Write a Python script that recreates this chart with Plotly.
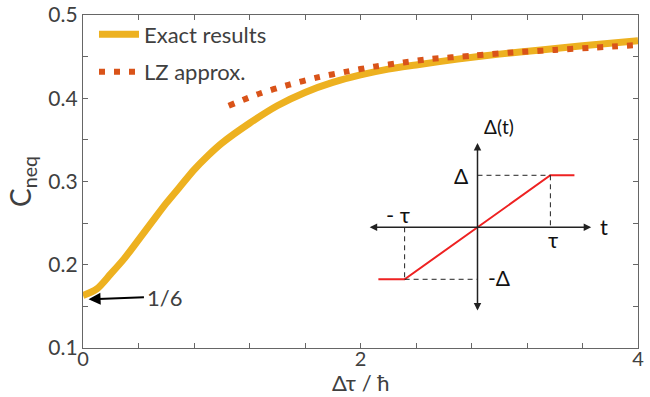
import plotly.graph_objects as go

# ---- main chart data ----
exact_x = [0, 0.1, 0.2, 0.3, 0.4, 0.5, 0.6, 0.7, 0.8, 0.9, 1.0, 1.2, 1.4, 1.6,
           1.8, 2.0, 2.2, 2.4, 2.7, 3.0, 3.3, 3.6, 4.0]
exact_y = [0.163, 0.171, 0.189, 0.208, 0.230, 0.252, 0.274, 0.294, 0.314, 0.331, 0.346,
           0.370, 0.391, 0.407, 0.419, 0.428, 0.435, 0.440, 0.447, 0.453, 0.458, 0.463,
           0.469]
lz_x = [1.05, 1.28, 1.48, 1.69, 1.9, 2.1, 2.31, 2.5, 2.8, 3.1, 3.4, 3.7, 4.0]
lz_y = [0.391, 0.406, 0.416, 0.425, 0.432, 0.438, 0.443, 0.447, 0.451, 0.455, 0.458,
        0.461, 0.464]

x_ticks = [0, 0.4, 0.8, 1.2, 1.6, 2.0, 2.4, 2.8, 3.2, 3.6, 4.0]
x_tick_labels = ["0", "", "", "", "", "2", "", "", "", "", "4"]
y_ticks = [0.1, 0.15, 0.2, 0.25, 0.3, 0.35, 0.4, 0.45, 0.5]
y_tick_labels = ["0.1", "", "0.2", "", "0.3", "", "0.4", "", "0.5"]
x_title = "Δτ / ħ"

# ---- inset schematic data (tau = 1, Delta = 1) ----
inset_t = [-1.36, -1, 1, 1.33]
inset_delta = [-1, -1, 1, 1]

FONT = "Lato"
TXT = "#404040"
AX = "#666666"

fig = go.Figure()
fig.add_trace(go.Scatter(x=exact_x, y=exact_y, mode="lines", name="Exact results",
                         legendgroup="a",
                         line=dict(color="#EDB120", width=7, shape="spline", smoothing=0.8)))
fig.add_trace(go.Scatter(x=lz_x, y=lz_y, mode="lines", name="LZ approx.",
                         legendgroup="b",
                         line=dict(color="#D95319", width=6, dash="6px,9px",
                                   shape="spline", smoothing=0.8)))

# inset traces
fig.add_trace(go.Scatter(x=inset_t, y=inset_delta, mode="lines", xaxis="x2", yaxis="y2",
                         showlegend=False, line=dict(color="#EE2222", width=2)))
dash_style = dict(color="#222222", width=1, dash="5px,4px")
fig.add_trace(go.Scatter(x=[inset_t[1], inset_t[1], None, inset_t[1], 0],
                         y=[0, inset_delta[1], None, inset_delta[1], inset_delta[1]],
                         mode="lines", xaxis="x2", yaxis="y2", showlegend=False,
                         line=dash_style))
fig.add_trace(go.Scatter(x=[0, inset_t[2], None, inset_t[2], inset_t[2]],
                         y=[inset_delta[2], inset_delta[2], None, inset_delta[2], 0],
                         mode="lines", xaxis="x2", yaxis="y2", showlegend=False,
                         line=dash_style))

axis_common = dict(showline=True, mirror="allticks", linecolor=AX, linewidth=1.3,
                   ticks="inside", ticklen=5, tickcolor=AX, tickwidth=1.2,
                   showgrid=False, zeroline=False, automargin=False,
                   tickfont=dict(family=FONT, size=21, color=TXT))

annotations = [
    dict(x=2, y=0, xref="x", yref="paper", yanchor="bottom", yshift=-49, borderpad=0,
         text=x_title, showarrow=False, font=dict(family=FONT, size=22, color=TXT)),
    dict(x=0.04, y=0.1585, xref="x", yref="y", ax=0.45, ay=0.161, axref="x", ayref="y",
         text="", showarrow=True, arrowhead=2, arrowsize=1.2, arrowwidth=2,
         arrowcolor="#000000"),
    dict(x=0.45, y=0.161, xref="x", yref="y", text="1/6", showarrow=False,
         xanchor="left", font=dict(family=FONT, size=22, color=TXT)),
    # inset axes arrows
    dict(x=1.56, y=0, xref="x2", yref="y2", ax=-1.5, ay=0, axref="x2", ayref="y2",
         text="", showarrow=True, arrowhead=2, arrowside="end+start", arrowsize=1,
         arrowwidth=1.5, arrowcolor="#222222"),
    dict(x=0, y=1.62, xref="x2", yref="y2", ax=0, ay=-1.63, axref="x2", ayref="y2",
         text="", showarrow=True, arrowhead=2, arrowside="end+start", arrowsize=1,
         arrowwidth=1.5, arrowcolor="#222222"),
]
inset_labels = [
    ("Δ(t)", 0.3, 1.93, 19),
    ("t", 1.74, 0.02, 22),
    ("Δ", -0.22, 0.99, 21),
    ("τ", 1.04, -0.24, 22),
    ("- τ", -1.09, 0.24, 22),
    ("-Δ", 0.3, -0.96, 21),
]
for txt, tx, ty, fs in inset_labels:
    annotations.append(dict(x=tx, y=ty, xref="x2", yref="y2", text=txt, showarrow=False,
                            font=dict(family=FONT, size=fs, color="#111111")))

fig.update_layout(
    width=650, height=397,
    margin=dict(l=82.5, r=11.5, t=15, b=49),
    paper_bgcolor="white", plot_bgcolor="rgba(0,0,0,0)",
    font=dict(family=FONT, color=TXT),
    xaxis=dict(axis_common, range=[0, 4], tickvals=x_ticks, ticktext=x_tick_labels,
               domain=[0, 1], ticklabelstandoff=-7,
               tickfont=dict(family=FONT, size=20, color=TXT)),
    yaxis=dict(axis_common, range=[0.1, 0.5], tickvals=y_ticks, ticktext=y_tick_labels,
               domain=[0, 1],
               title=dict(text="C<sub>neq</sub>", font=dict(family=FONT, size=28, color=TXT),
                          standoff=8)),
    xaxis2=dict(domain=[0.5007, 0.9603], range=[-1.6, 1.9], anchor="y2",
                visible=False, showgrid=False, zeroline=False),
    yaxis2=dict(domain=[0.097, 0.6904], range=[-1.7, 2.1], anchor="x2",
                visible=False, showgrid=False, zeroline=False),
    legend=dict(x=0.0198, y=1.005, xanchor="left", yanchor="top", bgcolor="rgba(0,0,0,0)",
                font=dict(family=FONT, size=22, color=TXT), tracegroupgap=6,
                itemwidth=40, traceorder="grouped"),
    annotations=annotations,
)

fig.write_html("out.html")
